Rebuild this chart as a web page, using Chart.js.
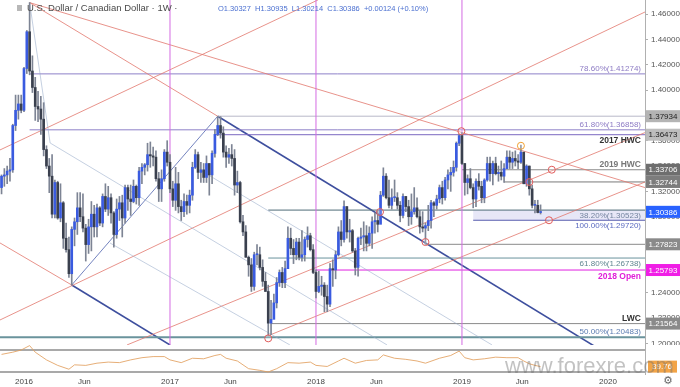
<!DOCTYPE html>
<html>
<head>
<meta charset="utf-8">
<script src="https://cdn.jsdelivr.net/npm/chart.js@4.4.0/dist/chart.umd.min.js"></script>
<style>
  body { margin: 0; background: #fff; width: 680px; height: 387px; overflow: hidden; position: relative; font-family: "Liberation Sans", Arial, sans-serif; }
  #main { position: absolute; left: 0; top: 0; }
  #rsi { position: absolute; left: 0; top: 345px; }
  .title { position: absolute; left: 27px; top: 2px; font-size: 9.5px; color: #4a4a4a; white-space: nowrap; }
  .icon { position: absolute; left: 17px; top: 5px; width: 5px; height: 6px; background: #b8b8b8; }
  .ohlc { position: absolute; left: 218px; top: 4px; font-size: 7.5px; color: #4a6fd0; white-space: pre; }
  .mark { position: absolute; left: 505px; top: 353px; font-size: 22px; color: rgba(110,110,110,0.42); white-space: nowrap; }
  .gear { position: absolute; left: 663px; top: 374px; font-size: 11px; color: #666; font-family: "DejaVu Sans", sans-serif; }
</style>
</head>
<body>
<canvas id="main" width="680" height="345"></canvas>
<canvas id="rsi" width="680" height="42"></canvas>
<div class="icon"></div>
<div class="title">U.S. Dollar / Canadian Dollar · 1W ·</div>
<div class="ohlc">O1.30327  H1.30935  L1.30214  C1.30386  +0.00124 (+0.10%)</div>
<div class="mark">www.forexre.com</div>
<div class="gear">⚙</div>
<script>
// weekly candles, first one is the week of 9 Nov 2015 (week 0 = 4 Jan 2016)
const firstWeek = -8;
const firstOpen = 1.3230;
const closes = [
  1.3320, 1.3330, 1.3360, 1.3370, 1.3720, 1.3840, 1.3890, 1.3840,
  1.4170, 1.4460, 1.4150, 1.4020, 1.3870, 1.3850, 1.3770, 1.3530, 1.3400, 1.3320,
  1.3020, 1.3270, 1.2990, 1.3110, 1.2830, 1.2740, 1.2550, 1.2900, 1.2960, 1.3070,
  1.3000, 1.2910, 1.2780, 1.2920, 1.3020, 1.2920, 1.3070, 1.2950, 1.3160, 1.3060,
  1.3150, 1.3030, 1.2860, 1.3060, 1.3110, 1.2990, 1.3230, 1.3140, 1.3120, 1.3240,
  1.3150, 1.3360, 1.3390, 1.3410, 1.3490, 1.3480, 1.3470, 1.3300, 1.3220, 1.3300,
  1.3510, 1.3430, 1.3220, 1.3130, 1.3260, 1.3080, 1.3040, 1.3120, 1.3090, 1.3170,
  1.3390, 1.3490, 1.3350, 1.3370, 1.3310, 1.3420, 1.3330, 1.3500, 1.3650, 1.3720,
  1.3660, 1.3510, 1.3470, 1.3490, 1.3460, 1.3250, 1.3270, 1.2960, 1.2880, 1.2680,
  1.2620, 1.2450, 1.2700, 1.2700, 1.2600, 1.2490, 1.2410, 1.2160, 1.2190, 1.2320,
  1.2480, 1.2560, 1.2480, 1.2590, 1.2830, 1.2750, 1.2700, 1.2800, 1.2680, 1.2700,
  1.2820, 1.2850, 1.2740, 1.2560, 1.2410, 1.2450, 1.2460, 1.2370, 1.2310, 1.2590,
  1.2580, 1.2700, 1.2880, 1.2820, 1.3080, 1.2880, 1.2890, 1.2730, 1.2600, 1.2830,
  1.2840, 1.2850, 1.2790, 1.2870, 1.2960, 1.2970, 1.2940, 1.3170, 1.3320, 1.3150,
  1.3090, 1.3150, 1.3150, 1.3090, 1.3010, 1.3160, 1.3080, 1.3000, 1.3040, 1.3070,
  1.3000, 1.2920, 1.2910, 1.2930, 1.2970, 1.3110, 1.3090, 1.3140, 1.3230, 1.3150,
  1.3290, 1.3330, 1.3350, 1.3390, 1.3580, 1.3640, 1.3420, 1.3270, 1.3300, 1.3230,
  1.3140, 1.3280, 1.3240, 1.3150, 1.3290, 1.3420, 1.3340, 1.3420, 1.3340, 1.3350,
  1.3320, 1.3380, 1.3470, 1.3430, 1.3460, 1.3440, 1.3430, 1.3510, 1.3260, 1.3400,
  1.3220, 1.3090, 1.3090, 1.3033, 1.30386
];
const highs = [
  1.3330, 1.3380, 1.3400, 1.3460, 1.3730, 1.3960, 1.3960, 1.3960,
  1.4180, 1.4470, 1.4690, 1.4270, 1.4100, 1.3990, 1.3950, 1.3900, 1.3560, 1.3460,
  1.3490, 1.3290, 1.3280, 1.3260, 1.3120, 1.2950, 1.2840, 1.2920, 1.2990, 1.3190,
  1.3190, 1.3180, 1.2940, 1.2980, 1.3120, 1.3090, 1.3100, 1.3080, 1.3180, 1.3260,
  1.3240, 1.3180, 1.3040, 1.3140, 1.3160, 1.3170, 1.3250, 1.3250, 1.3250, 1.3290,
  1.3250, 1.3390, 1.3420, 1.3420, 1.3580, 1.3590, 1.3550, 1.3520, 1.3350, 1.3370,
  1.3530, 1.3600, 1.3490, 1.3280, 1.3390, 1.3350, 1.3130, 1.3180, 1.3170, 1.3210,
  1.3430, 1.3530, 1.3510, 1.3430, 1.3420, 1.3480, 1.3420, 1.3520, 1.3690, 1.3793,
  1.3790, 1.3710, 1.3560, 1.3540, 1.3570, 1.3530, 1.3360, 1.3280, 1.3010, 1.2930,
  1.2690, 1.2670, 1.2720, 1.2780, 1.2760, 1.2660, 1.2560, 1.2460, 1.2340, 1.2390,
  1.2520, 1.2580, 1.2600, 1.2650, 1.2920, 1.2910, 1.2820, 1.2830, 1.2830, 1.2890,
  1.2840, 1.2920, 1.2870, 1.2780, 1.2580, 1.2570, 1.2530, 1.2480, 1.2460, 1.2630,
  1.2660, 1.2730, 1.2920, 1.2970, 1.3125, 1.3080, 1.2980, 1.2900, 1.2750, 1.2840,
  1.2910, 1.2960, 1.2930, 1.2920, 1.3000, 1.3030, 1.3050, 1.3200, 1.3386, 1.3340,
  1.3290, 1.3220, 1.3290, 1.3190, 1.3120, 1.3180, 1.3160, 1.3130, 1.3180, 1.3230,
  1.3150, 1.3050, 1.3040, 1.2950, 1.3090, 1.3130, 1.3120, 1.3170, 1.3250, 1.3280,
  1.3310, 1.3370, 1.3390, 1.3440, 1.3590, 1.3650, 1.3665, 1.3420, 1.3330, 1.3380,
  1.3260, 1.3300, 1.3340, 1.3280, 1.3300, 1.3470, 1.3470, 1.3440, 1.3470, 1.3400,
  1.3440, 1.3420, 1.3520, 1.3520, 1.3510, 1.3520, 1.3490, 1.3565, 1.3500, 1.3410,
  1.3400, 1.3250, 1.3130, 1.3130, 1.30935
];
const lows = [
  1.3180, 1.3240, 1.3260, 1.3280, 1.3350, 1.3680, 1.3770, 1.3820,
  1.3830, 1.4130, 1.4120, 1.3980, 1.3760, 1.3750, 1.3650, 1.3480, 1.3380, 1.3190,
  1.2990, 1.2990, 1.2980, 1.2960, 1.2750, 1.2720, 1.2520, 1.2460, 1.2770, 1.2860,
  1.2960, 1.2880, 1.2650, 1.2710, 1.2730, 1.2840, 1.2840, 1.2930, 1.2920, 1.3040,
  1.3010, 1.2950, 1.2760, 1.2830, 1.2970, 1.2840, 1.2950, 1.3050, 1.3010, 1.3110,
  1.3100, 1.3090, 1.3260, 1.3330, 1.3360, 1.3390, 1.3400, 1.3280, 1.3120, 1.3120,
  1.3280, 1.3400, 1.3190, 1.3080, 1.3050, 1.3030, 1.2970, 1.3000, 1.3020, 1.3030,
  1.3130, 1.3380, 1.3300, 1.3270, 1.3270, 1.3270, 1.3170, 1.3260, 1.3470, 1.3640,
  1.3620, 1.3470, 1.3390, 1.3420, 1.3400, 1.3170, 1.3190, 1.2950, 1.2850, 1.2680,
  1.2530, 1.2410, 1.2420, 1.2620, 1.2580, 1.2450, 1.2410, 1.2061, 1.2070, 1.2250,
  1.2280, 1.2450, 1.2440, 1.2440, 1.2590, 1.2700, 1.2630, 1.2660, 1.2660, 1.2650,
  1.2650, 1.2760, 1.2730, 1.2550, 1.2360, 1.2400, 1.2380, 1.2250, 1.2250, 1.2290,
  1.2450, 1.2510, 1.2690, 1.2770, 1.2800, 1.2830, 1.2800, 1.2720, 1.2540, 1.2530,
  1.2780, 1.2730, 1.2730, 1.2770, 1.2750, 1.2870, 1.2880, 1.2950, 1.3160, 1.3140,
  1.3070, 1.3060, 1.3120, 1.3060, 1.2960, 1.2990, 1.3040, 1.2930, 1.2940, 1.3020,
  1.2990, 1.2870, 1.2880, 1.2782, 1.2890, 1.2910, 1.3000, 1.3060, 1.3110, 1.3100,
  1.3130, 1.3220, 1.3200, 1.3320, 1.3360, 1.3560, 1.3410, 1.3170, 1.3180, 1.3220,
  1.3070, 1.3080, 1.3210, 1.3110, 1.3110, 1.3280, 1.3280, 1.3250, 1.3330, 1.3280,
  1.3290, 1.3270, 1.3380, 1.3380, 1.3380, 1.3400, 1.3380, 1.3420, 1.3260, 1.3240,
  1.3170, 1.3070, 1.3030, 1.3030, 1.30214
];

// RSI
const rsiWeeks  = [-8, -4, -1, 2, 4, 8, 12, 16, 18, 22, 26, 30, 34, 38, 42, 46, 50, 52, 56, 60, 64, 68, 70, 72, 76, 80, 84, 87, 90, 94, 98, 102, 104, 108, 112, 114, 118, 122, 126, 128, 132, 136, 140, 143, 148, 152, 155, 157, 160, 164, 168, 172, 176, 178, 180, 182, 184];
const rsiValues = [62, 66, 70, 78, 66, 52, 42, 35, 43, 42, 46, 48, 47, 52, 56, 58, 58, 52, 47, 55, 54, 60, 62, 55, 50, 36, 33, 30, 36, 47, 46, 48, 42, 40, 50, 55, 46, 51, 52, 61, 55, 53, 50, 46, 55, 60, 68, 56, 52, 54, 57, 56, 56, 50, 45, 42, 39.76];
const rsiLast = 39.76;

const yearLines = [52, 104, 156];
const tickWeeks = [0, 21.5, 52, 73.5, 104, 125.5, 156, 177.5, 208];
const tickLabels = ['2016', 'Jun', '2017', 'Jun', '2018', 'Jun', '2019', 'Jun', '2020'];
const priceTicks = [1.20, 1.22, 1.24, 1.26, 1.28, 1.30, 1.32, 1.34, 1.36, 1.38, 1.40, 1.42, 1.44, 1.46];

// horizontal levels: price, first week, label
const levelPrices = [1.41274, 1.37934, 1.36858, 1.36473, 1.33706, 1.32744, 1.30523, 1.29720, 1.27823, 1.26738, 1.25793, 1.21564, 1.20483];
const levelStarts = [2, 69, 2, 68, 156, 171, 87, 160, 143, 87, 104, 88, -9];
const levelLabels = ['78.60%(1.41274)', '', '61.80%(1.36858)', '2017 HWC', '2019 HWC', '', '38.20%(1.30523)', '100.00%(1.29720)', '', '61.80%(1.26738)', '2018 Open', 'LWC', '50.00%(1.20483)'];
const zonePrices = [1.29720, 1.30523];
const zoneStart = 160;
const priceTags = [1.37934, 1.36473, 1.33706, 1.32744, 1.30386, 1.27823, 1.25793, 1.21564];

// trendlines [week, price, week, price]
const redLines = [
  [2, 1.4690, 221.2, 1.3230],
  [2, 1.4690, 69, 1.3793],
  [-8.55, 1.3527, 104.7, 1.4711],
  [-8.55, 1.2185, 221.2, 1.4616],
  [-8.55, 1.2793, 17, 1.2461],
  [36.7, 1.1988, 221.2, 1.3664],
  [87, 1.2061, 221.2, 1.3274]
];
const navyLines = [
  [17, 1.2461, 52, 1.1988],
  [69, 1.3793, 221.2, 1.1735]
];
const blueLines = [
  [17, 1.2461, 69, 1.3793]
];
const faintLines = [
  [2, 1.4690, 9.3, 1.3582],
  [9.3, 1.3582, 129.3, 1.1988],
  [30.6, 1.2793, 94.7, 1.1988],
  [62.7, 1.3369, 166.7, 1.1988]
];
const circleWeeks = [87, 143, 126.8, 155.8, 188, 180, 187];
const circlePrices = [1.2040, 1.2800, 1.3037, 1.3675, 1.3371, 1.3274, 1.2972];
const peakWeek = 177, peakPrice = 1.3560;

const xMin = -8.55, xMax = 221.2;
const yMin = 1.19875, yMax = 1.47105;

// styling
const upColor = '#3a5be0';
const downColor = '#3a404e';
const wickColor = '#7d8494';
const levelStyles = [
  { color: '#8e80c8', width: 1, text: '#8d7bc4', side: 'above', bold: false },
  { color: '#b9b9c9', width: 1 },
  { color: '#8e80c8', width: 1, text: '#8d7bc4', side: 'above', bold: false },
  { color: '#7a68c0', width: 1, text: '#333333', side: 'below', bold: true },
  { color: '#8a8a8a', width: 1, text: '#777777', side: 'above', bold: true },
  { color: '#7a7a7a', width: 1 },
  { color: '#4f6b78', width: 1, text: '#7484a0', side: 'below', bold: false },
  { color: '#5a5fb0', width: 1, text: '#5a6ac0', side: 'below', bold: false },
  { color: '#8a8a8a', width: 1 },
  { color: '#6a939c', width: 1, text: '#5f8590', side: 'below', bold: false },
  { color: '#e020e0', width: 1, text: '#e01fd8', side: 'below', bold: true },
  { color: '#8a8a8a', width: 1, text: '#333333', side: 'above', bold: true },
  { color: '#6a939c', width: 2, text: '#5a7ab0', side: 'above', bold: false }
];
const tagStyles = [
  { bg: '#b4b4b4', fg: '#222' },
  { bg: '#bdbdbd', fg: '#222' },
  { bg: '#6e6e6e', fg: '#fff' },
  { bg: '#7c7c7c', fg: '#fff' },
  { bg: '#2962ff', fg: '#fff' },
  { bg: '#8a8a8a', fg: '#fff' },
  { bg: '#f01ee6', fg: '#fff' },
  { bg: '#8a8a8a', fg: '#fff' }
];

const weeks = closes.map((c, i) => firstWeek + i);
const opens = closes.map((c, i) => i === 0 ? firstOpen : closes[i - 1]); // weekly open = prior close
const candleColors = closes.map((c, i) => c >= opens[i] ? upColor : downColor);

function segment(seg, color, width, dash) {
  return {
    type: 'line',
    data: [{ x: seg[0], y: seg[1] }, { x: seg[2], y: seg[3] }],
    borderColor: color,
    borderWidth: width,
    borderDash: dash || [],
    pointRadius: 0,
    pointHoverRadius: 0,
    order: 5
  };
}

const datasets = [];
yearLines.forEach(w => datasets.push(segment([w, yMin, w, yMax], '#d46be2', 1)));
faintLines.forEach(s => datasets.push(segment(s, 'rgba(150,170,200,0.55)', 1)));
redLines.forEach(s => datasets.push(segment(s, 'rgba(226,120,110,0.8)', 1)));
levelPrices.forEach((p, i) => datasets.push(segment([levelStarts[i], p, xMax, p], levelStyles[i].color, levelStyles[i].width)));
blueLines.forEach(s => datasets.push(segment(s, 'rgba(80,100,175,0.8)', 1)));
navyLines.forEach(s => datasets.push(segment(s, '#3e4f9e', 1.6)));

datasets.push({
  type: 'bar',
  data: weeks.map((w, i) => ({ x: w, y: [lows[i], highs[i]] })),
  backgroundColor: wickColor,
  barThickness: 1,
  grouped: false,
  order: 2
});
datasets.push({
  type: 'bar',
  data: weeks.map((w, i) => ({ x: w, y: [opens[i], closes[i]] })),
  backgroundColor: candleColors,
  barThickness: 2,
  minBarLength: 1,
  grouped: false,
  order: 1
});
datasets.push({
  type: 'line',
  showLine: false,
  data: circleWeeks.map((w, i) => ({ x: w, y: circlePrices[i] })),
  pointRadius: 3.5,
  pointBorderColor: '#e05a5a',
  pointBackgroundColor: 'rgba(255,255,255,0.2)',
  pointBorderWidth: 1,
  order: 0
});
datasets.push({
  type: 'line',
  showLine: false,
  data: [{ x: peakWeek, y: peakPrice }],
  pointRadius: 3.5,
  pointBorderColor: '#f0a030',
  pointBackgroundColor: 'rgba(255,255,255,0.2)',
  pointBorderWidth: 1,
  order: 0
});

const overlay = {
  id: 'overlay',
  beforeDatasetsDraw(chart) {
    const { ctx, chartArea, scales: { x, y } } = chart;
    const x0 = x.getPixelForValue(zoneStart);
    const y0 = y.getPixelForValue(zonePrices[1]);
    const y1 = y.getPixelForValue(zonePrices[0]);
    ctx.save();
    ctx.fillStyle = 'rgba(175,175,230,0.3)';
    ctx.fillRect(x0, y0, chartArea.right - x0, y1 - y0);
    ctx.restore();
  },
  afterDraw(chart) {
    const { ctx, chartArea, scales: { y } } = chart;
    ctx.save();
    ctx.textAlign = 'right';
    levelLabels.forEach((txt, i) => {
      if (!txt) return;
      const st = levelStyles[i];
      const py = y.getPixelForValue(levelPrices[i]);
      ctx.font = (st.bold ? 'bold 8.5px ' : '8px ') + '"Liberation Sans", Arial, sans-serif';
      ctx.fillStyle = st.text;
      ctx.textBaseline = st.side === 'above' ? 'bottom' : 'top';
      ctx.fillText(txt, chartArea.right - 4, st.side === 'above' ? py - 1 : py + 2);
    });
    ctx.font = '8px "Liberation Sans", Arial, sans-serif';
    ctx.textAlign = 'center';
    ctx.textBaseline = 'middle';
    priceTags.forEach((p, i) => {
      const py = y.getPixelForValue(p);
      ctx.fillStyle = tagStyles[i].bg;
      ctx.fillRect(chartArea.right + 1, py - 6, 680 - chartArea.right - 1, 12);
      ctx.fillStyle = tagStyles[i].fg;
      ctx.fillText(p.toFixed(5), chartArea.right + 18, py + 0.5);
    });
    ctx.restore();
  }
};

new Chart(document.getElementById('main'), {
  type: 'bar',
  data: { datasets },
  options: {
    responsive: false,
    animation: false,
    layout: { padding: 0, autoPadding: false },
    plugins: { legend: { display: false }, tooltip: { enabled: false } },
    scales: {
      x: { type: 'linear', min: xMin, max: xMax, display: false, offset: false },
      y: {
        position: 'right', min: yMin, max: yMax,
        afterFit(s) { s.width = 35; s.paddingTop = 0; s.paddingBottom = 0; },
        afterBuildTicks(s) { s.ticks = priceTicks.map(v => ({ value: v })); },
        ticks: { callback: v => v.toFixed(5), color: '#555', font: { size: 8, family: '"Liberation Sans", Arial, sans-serif' }, padding: 3 },
        grid: { drawOnChartArea: false, drawTicks: true, tickLength: 3, color: '#b0b0b0' },
        border: { color: '#b0b0b0' }
      }
    }
  },
  plugins: [overlay]
});

const rsiOverlay = {
  id: 'rsiOverlay',
  afterDraw(chart) {
    const { ctx, chartArea, scales: { y } } = chart;
    ctx.save();
    ctx.strokeStyle = '#b0b0b0';
    ctx.beginPath();
    ctx.moveTo(chartArea.right + 0.5, 0);
    ctx.lineTo(chartArea.right + 0.5, chartArea.bottom);
    ctx.stroke();
    const py = y.getPixelForValue(rsiLast);
    ctx.fillStyle = '#f2a447';
    ctx.fillRect(chartArea.right + 3, py - 6, 680 - chartArea.right - 6, 12);
    ctx.fillStyle = '#fff';
    ctx.font = '8px "Liberation Sans", Arial, sans-serif';
    ctx.textAlign = 'center';
    ctx.textBaseline = 'middle';
    ctx.fillText(rsiLast.toFixed(2), chartArea.right + 17, py + 0.5);
    ctx.restore();
  }
};

new Chart(document.getElementById('rsi'), {
  type: 'line',
  data: {
    datasets: [
      segment([xMin, 70, xMax, 70], '#8c8c8c', 1.5),
      segment([xMin, 30, xMax, 30], '#8c8c8c', 1.5),
      {
        data: rsiWeeks.map((w, i) => ({ x: w, y: rsiValues[i] })),
        borderColor: 'rgba(226,160,95,0.85)',
        borderWidth: 1,
        pointRadius: 0,
        pointHoverRadius: 0,
        tension: 0
      }
    ]
  },
  options: {
    responsive: false,
    animation: false,
    layout: { padding: { left: 0, right: 35, top: 0, bottom: 0 }, autoPadding: false },
    plugins: { legend: { display: false }, tooltip: { enabled: false } },
    scales: {
      x: {
        type: 'linear', min: xMin, max: xMax, offset: false,
        afterFit(s) { s.height = 12; s.paddingLeft = 0; s.paddingRight = 0; },
        afterBuildTicks(s) { s.ticks = tickWeeks.map(v => ({ value: v })); },
        ticks: {
          autoSkip: false, maxRotation: 0, padding: 2, color: '#444',
          font: { size: 8, family: '"Liberation Sans", Arial, sans-serif' },
          callback: v => tickLabels[tickWeeks.indexOf(v)]
        },
        grid: { display: false, drawTicks: false },
        border: { display: false }
      },
      y: { display: false, min: 24.5, max: 79.1 }
    }
  },
  plugins: [rsiOverlay]
});
</script>
</body>
</html>
